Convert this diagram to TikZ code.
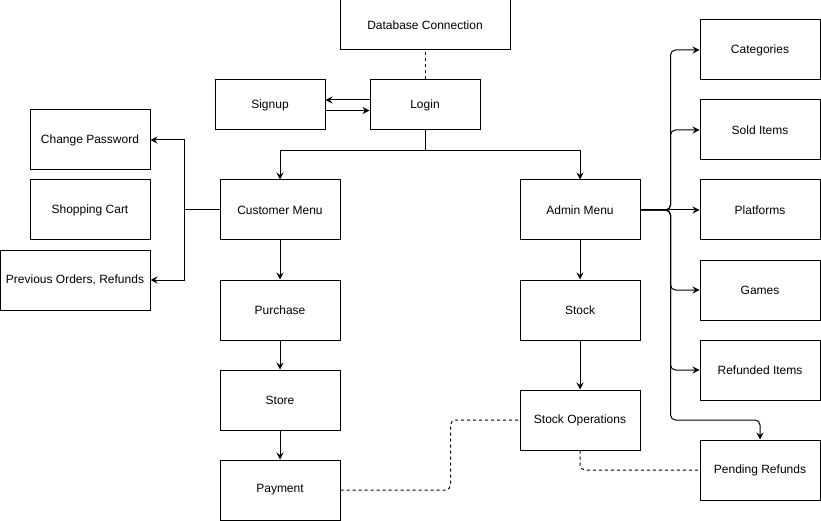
\documentclass[tikz,border=0pt]{standalone}
\usepackage{fontspec}
\setmainfont{Liberation Sans}
\usetikzlibrary{arrows.meta}
\begin{document}
\begin{tikzpicture}[x=1pt, y=-1pt,
  every node/.style={font=\fontsize{12}{14}\selectfont},
  box/.style={draw, line width=1pt, rectangle, minimum width=120pt, minimum height=60pt, inner sep=0pt},
  arr/.style={line width=1pt, -{Stealth[length=7pt, width=7pt, inset=2.5pt]}},
  link/.style={line width=1pt},
  dashlink/.style={line width=1pt, dash pattern=on 3pt off 3pt, rounded corners=5pt}]
\useasboundingbox (0,0) rectangle (821,521);

% nodes
\node[box, minimum width=170pt, minimum height=50pt] (db) at (425,25) {Database Connection};
\node[box, minimum width=110pt, minimum height=50pt] (signup) at (270,105) {Signup};
\node[box, minimum width=110pt, minimum height=50pt] (login) at (425,105) {Login};

\node[box] (chpw) at (90,140) {Change Password};
\node[box] (cart) at (90,210) {Shopping Cart};
\node[box, minimum width=150pt] (prev) at (75,280) {Previous Orders, Refunds};

\node[box] (cust) at (280,210) {Customer Menu};
\node[box] (purch) at (280,310) {Purchase};
\node[box] (store) at (280,400) {Store};
\node[box] (pay) at (280,490) {Payment};

\node[box] (admin) at (580,210) {Admin Menu};
\node[box] (stock) at (580,310) {Stock};
\node[box] (stockops) at (580,420) {Stock Operations};

\node[box] (cat) at (760,50) {Categories};
\node[box] (sold) at (760,130) {Sold Items};
\node[box] (plat) at (760,210) {Platforms};
\node[box] (games) at (760,290) {Games};
\node[box] (refd) at (760,370) {Refunded Items};
\node[box] (pend) at (760,470) {Pending Refunds};

% login area
\draw[dashlink] (login.north) -- (db.south);
\draw[arr] ([yshift=5pt]login.west) -- ([yshift=5pt]signup.east);
\draw[arr] ([yshift=-5.5pt]signup.east) -- ([yshift=-5.5pt]login.west);

\draw[link] (login.south) -- ++(0,20) coordinate (split);
\draw[arr] (split) -| (cust.north);
\draw[arr] (split) -| (admin.north);

% customer side
\draw[arr] (cust.west) -- ++(-35,0) |- (chpw.east);
\draw[arr] (cust.west) -- ++(-35,0) |- (prev.east);
\draw[arr] (cust) -- (purch);
\draw[arr] (purch) -- (store);
\draw[arr] (store) -- (pay);

% admin side
\draw[arr] (admin) -- (stock);
\draw[arr] (stock) -- (stockops);
\draw[arr, rounded corners=5pt] (admin.east) -- ++(30,0) |- (cat.west);
\draw[arr, rounded corners=5pt] (admin.east) -- ++(30,0) |- (sold.west);
\draw[arr] (admin.east) -- (plat.west);
\draw[arr, rounded corners=5pt] (admin.east) -- ++(30,0) |- (games.west);
\draw[arr, rounded corners=5pt] (admin.east) -- ++(30,0) |- (refd.west);
\draw[arr, rounded corners=5pt] (admin.east) -- ++(30,0) -- ++(0,210) -| (pend.north);

% dashed links
\draw[dashlink] (pay.east) -- ++(110,0) |- (stockops.west);
\draw[dashlink] (stockops.south) |- (pend.west);
\end{tikzpicture}
\end{document}
